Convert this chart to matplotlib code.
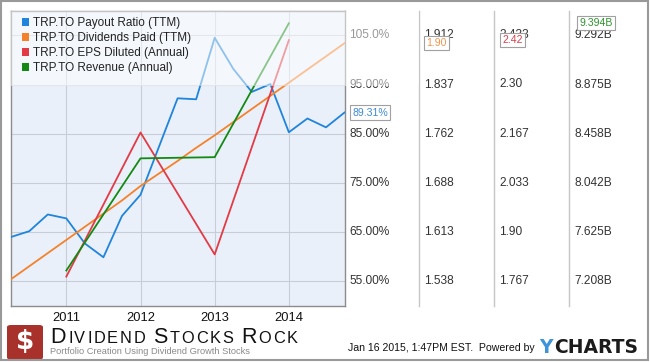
import matplotlib
matplotlib.use("Agg")
import matplotlib.pyplot as plt
from matplotlib.patches import Patch, Rectangle, FancyBboxPatch
from matplotlib.lines import Line2D
from matplotlib.transforms import blended_transform_factory

plt.rcParams['font.family'] = ['Liberation Sans', 'DejaVu Sans']

# ---- data ----
quarters = [2010.25, 2010.5, 2010.75, 2011.0, 2011.25, 2011.5, 2011.75, 2012.0,
            2012.25, 2012.5, 2012.75, 2013.0, 2013.25, 2013.5, 2013.75, 2014.0,
            2014.25, 2014.5, 2014.75]
payout_ratio = [64.0, 65.2, 68.6, 67.8, 62.7, 59.9, 68.3, 72.6, 82.4, 92.2, 92.0,
                104.5, 98.2, 93.5, 95.1, 85.3, 88.1, 86.3, 89.31]
dividends_paid = [1.541, 1.561, 1.581, 1.601, 1.621, 1.641, 1.661, 1.683, 1.702,
                  1.721, 1.741, 1.760, 1.780, 1.800, 1.820, 1.840, 1.860, 1.880, 1.900]

years_end = [2011.0, 2012.0, 2013.0, 2014.0]
eps_diluted = [1.78, 2.17, 1.84, 2.42]
revenue_b = [7.30, 8.25, 8.26, 9.394]

year_ticks = [2011, 2012, 2013, 2014]
year_labels = ['2011', '2012', '2013', '2014']

pct_ticks = [55, 65, 75, 85, 95, 105]
pct_labels = ['55.00%', '65.00%', '75.00%', '85.00%', '95.00%', '105.0%']
div_ticks = [1.538, 1.613, 1.688, 1.762, 1.837, 1.912]
div_labels = ['1.538', '1.613', '1.688', '1.762', '1.837', '1.912']
eps_ticks = [1.767, 1.90, 2.033, 2.167, 2.30, 2.433]
eps_labels = ['1.767', '1.90', '2.033', '2.167', '2.30', '2.433']
rev_ticks = [7.208, 7.625, 8.042, 8.458, 8.875, 9.292]
rev_labels = ['7.208B', '7.625B', '8.042B', '8.458B', '8.875B', '9.292B']

names = ['TRP.TO Payout Ratio (TTM)', 'TRP.TO Dividends Paid (TTM)',
         'TRP.TO EPS Diluted (Annual)', 'TRP.TO Revenue (Annual)']
colors = ['#1F84DC', '#F5822A', '#E23B45', '#138A13']
callout_text = ['#3D8BD2', '#EE9550', '#D8404C', '#2E912E']

W, H = 650, 362


def fx(p):
    return p / W


def fy(p):
    return 1 - p / H


fig = plt.figure(figsize=(W / 100, H / 100), dpi=100)
fig.patch.set_facecolor('white')

L, R, T, B = 10.7, 344.5, 10.7, 306
ax = fig.add_axes([fx(L), fy(B), (R - L) / W, (B - T) / H])
ax.set_facecolor('#EAF0FA')
for s in ax.spines.values():
    s.set_color('#8C8C8C')
    s.set_linewidth(1)
ax.set_xlim(2010.25, 2014.75)
ax.set_ylim(50, 110)


def twin(ticks):
    t = ax.twinx()
    step = (ticks[-1] - ticks[0]) / (len(ticks) - 1)
    t.set_ylim(ticks[0] - step / 2, ticks[-1] + step / 2)
    t.axis('off')
    return t


ax_div = twin(div_ticks)
ax_eps = twin(eps_ticks)
ax_rev = twin(rev_ticks)

ax.set_xticks(year_ticks)
ax.set_xticklabels(year_labels)
ax.set_yticks(pct_ticks)
ax.tick_params(axis='y', left=False, right=False, labelleft=False, labelright=False)
ax.tick_params(axis='x', length=0, pad=4.5, labelsize=9.3, labelcolor='#111111')
ax.grid(True, color='#C8CED8', lw=0.8)
ax.set_axisbelow(True)

ax.plot(quarters, payout_ratio, color=colors[0], lw=1.3, zorder=3)
ax_div.plot(quarters, dividends_paid, color=colors[1], lw=1.3)
ax_eps.plot(years_end, eps_diluted, color=colors[2], lw=1.3)
ax_rev.plot(years_end, revenue_b, color=colors[3], lw=1.3)

# right-hand value columns
columns = [(ax, pct_ticks, pct_labels, 349.5, 350, payout_ratio[-1], f'{payout_ratio[-1]:.2f}%'),
           (ax_div, div_ticks, div_labels, 424.3, 424, dividends_paid[-1], f'{dividends_paid[-1]:.2f}'),
           (ax_eps, eps_ticks, eps_labels, 499, 500, eps_diluted[-1], f'{eps_diluted[-1]:.2f}'),
           (ax_rev, rev_ticks, rev_labels, 574.3, 577, revenue_b[-1], f'{revenue_b[-1]:.3f}B')]
for i, (a, ticks, labels, xcol, xbox, last, lab) in enumerate(columns):
    tr = blended_transform_factory(fig.transFigure, a.transData)
    for v, s in zip(ticks, labels):
        a.text(fx(xcol), v, s, transform=tr, va='center', ha='left', fontsize=8.6,
               color='#333333', clip_on=False)
    a.text(fx(xbox + 2.5), last, lab, transform=tr, va='center', ha='left', fontsize=7.6,
           color=callout_text[i], clip_on=False, zorder=10,
           bbox=dict(boxstyle='square,pad=0.2', fc='white', ec='#A0A0A0', lw=0.8))

for xs in [419.3, 494.3, 569.3]:
    fig.add_artist(Line2D([fx(xs), fx(xs)], [fy(T), fy(B)], color='#C6C6C6', lw=1))

# translucent legend band
fig.add_artist(Rectangle((fx(L), fy(86)), (419 - L) / W, (86 - T) / H,
                         facecolor='white', alpha=0.5, edgecolor='none', zorder=5))

handles = [Patch(facecolor=c, edgecolor='none') for c in colors]
leg = fig.legend(handles, names, loc='upper left', bbox_to_anchor=(fx(22), fy(17)),
                 frameon=False, fontsize=8.5, handlelength=0.6, handleheight=0.6,
                 handletextpad=0.35, labelspacing=0.26, borderpad=0, borderaxespad=0)
leg.set_zorder(6)
for t in leg.get_texts():
    t.set_color('#222222')

# logo
fig.add_artist(FancyBboxPatch((fx(7), fy(359.5)), 36 / W, 34.5 / H,
                              boxstyle='round,pad=0,rounding_size=0.006',
                              fc='#A8322B', ec='none', transform=fig.transFigure))
fig.text(fx(25), fy(342), '$', color='white', fontsize=19, fontweight='bold',
         family='DejaVu Sans', ha='center', va='center')

renderer = fig.canvas.get_renderer()
words = ['DIVIDEND', 'STOCKS', 'ROCK']
glyphs = []
for wi, w in enumerate(words):
    for ci, ch in enumerate(w):
        size = 15.5 if ci == 0 else 11.8
        t = fig.text(0, fy(342.7), ch, fontsize=size, color='#111111', va='baseline', ha='left')
        glyphs.append((t, t.get_window_extent(renderer).width, wi, ci))
natural = sum(g[1] for g in glyphs)
gap = 6.0
n_gaps = len(glyphs) - 1
track = (247 - natural - gap * (len(words) - 1)) / n_gaps
xpos = 50.7
for k, (t, w, wi, ci) in enumerate(glyphs):
    if k > 0 and ci == 0:
        xpos += gap
    t.set_x(fx(xpos))
    xpos += w + track

fig.text(fx(50), fy(352), 'Portfolio Creation Using Dividend Growth Stocks', fontsize=6.7,
         color='#8A8A8A', va='center', ha='left')

fig.text(fx(348), fy(351), 'Jan 16 2015, 1:47PM EST.  Powered by', fontsize=7.6,
         color='#111111', va='baseline', ha='left')
fig.text(fx(539), fy(353), 'Y', fontsize=13.5, fontweight='bold', family='DejaVu Sans',
         color='#3E94DA', va='baseline', ha='left')
fig.text(fx(554), fy(353), 'CHARTS', fontsize=13.5, fontweight='bold', family='DejaVu Sans',
         color='#1B1B1B', va='baseline', ha='left')

# outer frame
fig.add_artist(Rectangle((fx(1), fy(360)), 647 / W, 359 / H, fill=False,
                         edgecolor='#999999', lw=1.5, transform=fig.transFigure))

fig.savefig('out.png', dpi=100)
